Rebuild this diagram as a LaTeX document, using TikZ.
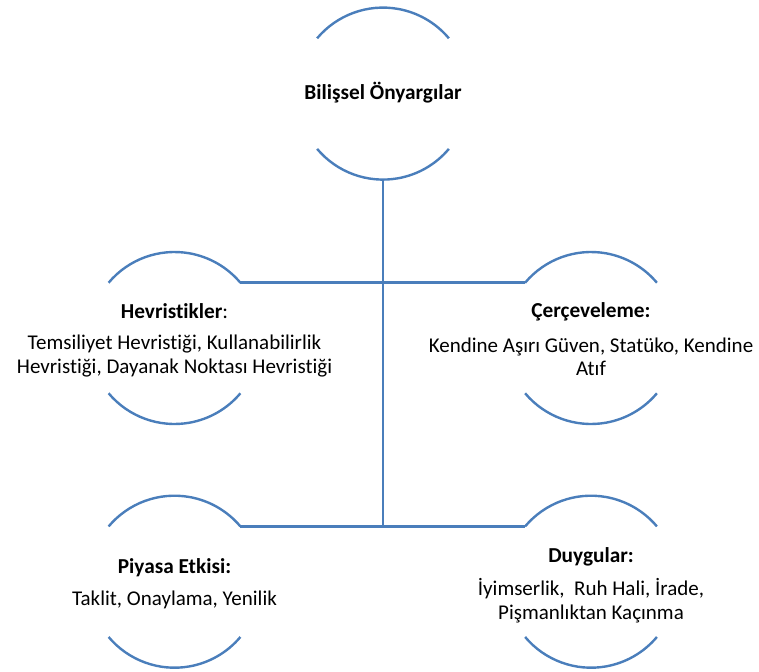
\documentclass[tikz,border=0pt]{standalone}
\usepackage{fontspec}
\setmainfont{Carlito}[Ligatures=NoCommon]
\usetikzlibrary{calc}
\definecolor{arcblue}{HTML}{4A7EBB}
\begin{document}
\begin{tikzpicture}[x=1pt,y=-1pt,
  ring/.style={draw=arcblue,line width=2.4pt},
  link/.style={draw=arcblue,line width=2.6pt},
  head/.style={font=\fontsize{21.3}{23.5}\selectfont\bfseries,inner sep=0pt,align=center},
  body/.style={font=\fontsize{21}{23.5}\selectfont,inner sep=0pt,align=center}]
\useasboundingbox (0,0) rectangle (759,671);
% circle centres
\coordinate (c0) at (383,93.6);
\coordinate (c1) at (174.5,338);
\coordinate (c2) at (591,338);
\coordinate (c3) at (174.5,581.7);
\coordinate (c4) at (591,581.7);
% arcs
\foreach \c in {c0,c1,c2,c3,c4}{
  \draw[ring] (\c) ++(140:86pt) arc[start angle=140,end angle=40,radius=86pt];
  \draw[ring] (\c) ++(220:86pt) arc[start angle=220,end angle=320,radius=86pt];
}
% connector coordinates
\coordinate (c0b) at ($(c0)+(0pt,-86pt)$);
\coordinate (c1r) at ($(c1)+(40:86pt)$);
\coordinate (c2l) at ($(c2)+(140:86pt)$);
\coordinate (c3r) at ($(c3)+(40:86pt)$);
\coordinate (c4l) at ($(c4)+(140:86pt)$);
\coordinate (s1) at (c0b |- c1r);
\coordinate (s2) at (c0b |- c3r);
\draw[link] (c0b) -- (s2);
\draw[link] (c1r) -- (s1) -- (c2l);
\draw[link] (c3r) -- (s2) -- (c4l);
% texts
\node[head] (t0) at (383,93) {Bilişsel Önyargılar};
\node[head] (t1) at (174.5,311.5) {Hevristikler\mdseries:};
\node[body] (b1) at (174.5,356) {Temsiliyet Hevristiği, Kullanabilirlik\\Hevristiği, Dayanak Noktası Hevristiği};
\node[head] (t2) at (591,312) {Çerçeveleme:};
\node[body] (b2) at (591,357) {Kendine Aşırı Güven, Statüko, Kendine\\Atıf};
\node[head] (t3) at (174.5,567.5) {Piyasa Etkisi:};
\node[body] (b3) at (174.5,600) {Taklit, Onaylama, Yenilik};
\node[head] (t4) at (591,556.5) {Duygular:};
\node[body] (b4) at (591,600.5) {İyimserlik,\ \ Ruh Hali, İrade,\\Pişmanlıktan Kaçınma};
\end{tikzpicture}
\end{document}
